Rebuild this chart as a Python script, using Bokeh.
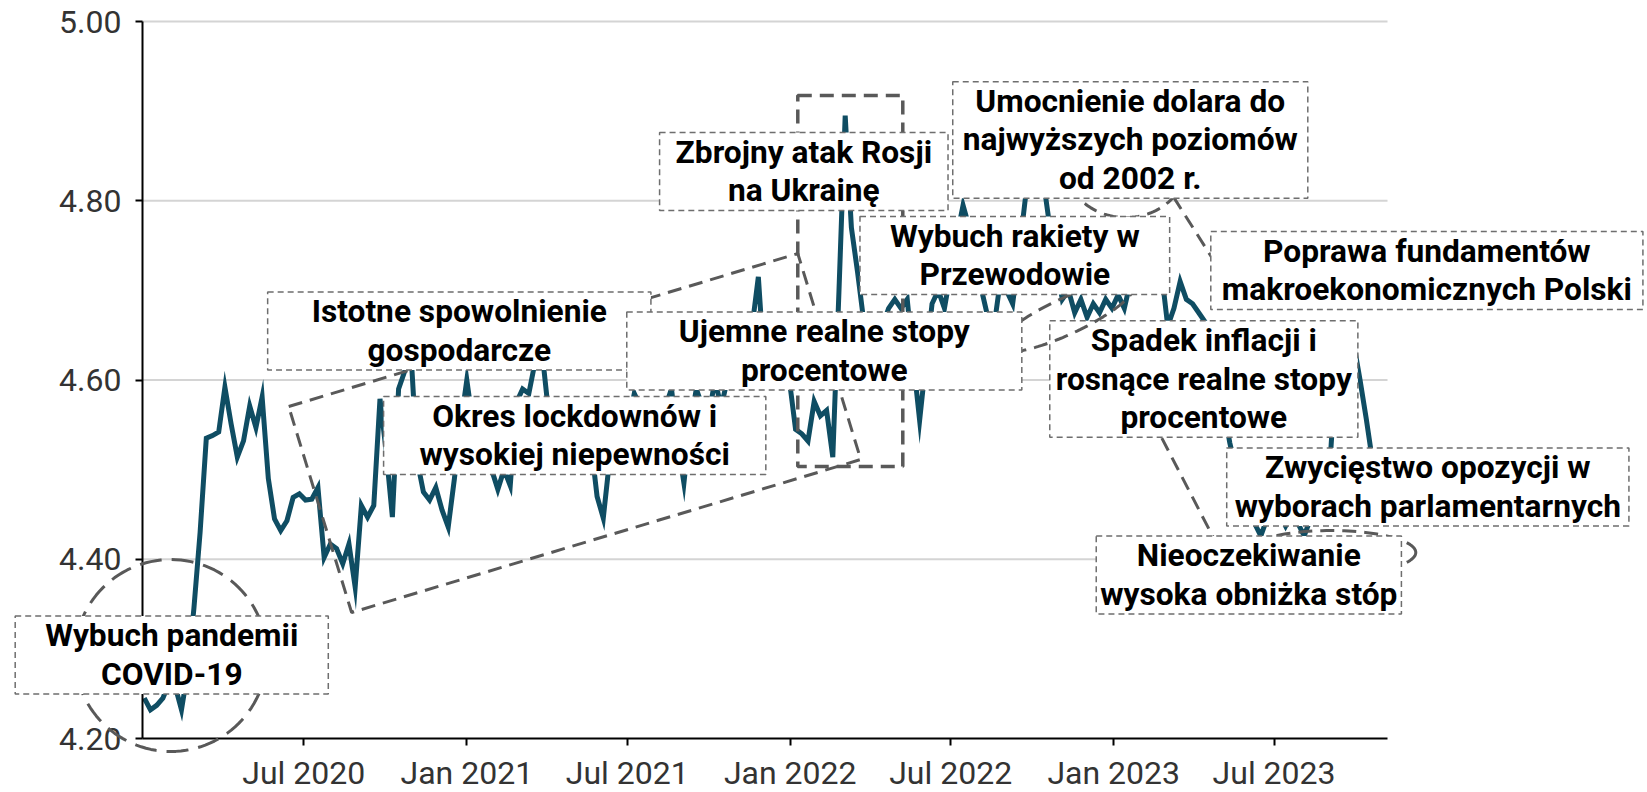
import numpy as np
import pandas as pd
from bokeh.plotting import figure
from bokeh.models import Range1d, FixedTicker, Label, PolyAnnotation, Arrow, ColumnDataSource
from bokeh.embed import file_html
from bokeh.resources import INLINE

# ---------------- data ----------------
first_week = "2020-01-03"
eur_pln = [
    4.245, 4.232, 4.237, 4.245, 4.262, 4.258, 4.232, 4.275, 4.345, 4.430,
    4.535, 4.538, 4.542, 4.592, 4.551, 4.514, 4.532, 4.571, 4.547, 4.581,
    4.490, 4.445, 4.432, 4.443, 4.469, 4.473, 4.466, 4.467, 4.480, 4.402,
    4.417, 4.412, 4.395, 4.417, 4.369, 4.460, 4.447, 4.460, 4.579, 4.520,
    4.447, 4.590, 4.610, 4.630, 4.510, 4.475, 4.466, 4.480, 4.455, 4.436,
    4.490, 4.550, 4.600, 4.550, 4.540, 4.520, 4.500, 4.478, 4.500, 4.482,
    4.575, 4.590, 4.585, 4.620, 4.640, 4.575, 4.550, 4.560, 4.545, 4.530,
    4.520, 4.550, 4.530, 4.470, 4.446, 4.510, 4.540, 4.560, 4.550, 4.585,
    4.570, 4.550, 4.530, 4.550, 4.570, 4.590, 4.530, 4.485, 4.550, 4.590,
    4.570, 4.560, 4.600, 4.570, 4.600, 4.620, 4.630, 4.610, 4.660, 4.715,
    4.610, 4.600, 4.610, 4.620, 4.600, 4.545, 4.540, 4.532, 4.576, 4.560,
    4.566, 4.514, 4.700, 4.895, 4.770, 4.720, 4.665, 4.640, 4.650, 4.660,
    4.680, 4.690, 4.680, 4.690, 4.620, 4.555, 4.620, 4.685, 4.700, 4.680,
    4.720, 4.760, 4.795, 4.770, 4.730, 4.700, 4.670, 4.660, 4.710, 4.700,
    4.685, 4.740, 4.800, 4.850, 4.870, 4.820, 4.770, 4.730, 4.690, 4.700,
    4.675, 4.690, 4.670, 4.685, 4.675, 4.690, 4.680, 4.695, 4.680, 4.710,
    4.740, 4.760, 4.770, 4.775, 4.720, 4.660, 4.680, 4.710, 4.690, 4.685,
    4.675, 4.665, 4.630, 4.600, 4.570, 4.530, 4.500, 4.470, 4.460, 4.440,
    4.426, 4.445, 4.460, 4.450, 4.437, 4.450, 4.440, 4.426, 4.445, 4.470,
    4.480, 4.490, 4.600, 4.630, 4.610, 4.640, 4.600, 4.557, 4.510, 4.460,
]
x_ticks = ["2020-07-01", "2021-01-01", "2021-07-01", "2022-01-01",
           "2022-07-01", "2023-01-01", "2023-07-01"]
x_tick_labels = ["Jul 2020", "Jan 2021", "Jul 2021", "Jan 2022",
                 "Jul 2022", "Jan 2023", "Jul 2023"]
y_ticks = [4.20, 4.40, 4.60, 4.80, 5.00]
y_tick_labels = ["4.20", "4.40", "4.60", "4.80", "5.00"]

# annotation texts and anchor points (date, value)
notes = [
    ("A", "Wybuch pandemii\nCOVID-19", "2020-02-03", 4.2932),
    ("B", "Istotne spowolnienie\ngospodarcze", "2020-12-23 12:00", 4.6547),
    ("C", "Okres lockdownów i\nwysokiej niepewności", "2021-05-02 18:00", 4.5381),
    ("D", "Ujemne realne stopy\nprocentowe", "2022-02-08 10:00", 4.6324),
    ("E", "Zbrojny atak Rosji\nna Ukrainę", "2022-01-16 07:00", 4.8326),
    ("F", "Umocnienie dolara do\nnajwyższych poziomów\nod 2002 r.", "2023-01-19 17:00", 4.8678),
    ("G", "Wybuch rakiety w\nPrzewodowie", "2022-09-11 10:00", 4.7389),
    ("H", "Poprawa fundamentów\nmakroekonomicznych Polski", "2023-12-20 10:00", 4.7222),
    ("I", "Spadek inflacji i\nrosnące realne stopy\nprocentowe", "2023-04-12 17:00", 4.6011),
    ("J", "Zwycięstwo opozycji w\nwyborach parlamentarnych", "2023-12-21 12:00", 4.4806),
    ("K", "Nieoczekiwanie\nwysoka obniżka stóp", "2023-06-02 12:00", 4.3824),
]
# horizontal padding of each text box
pad_h = {"A": 30, "B": 44, "C": 36, "D": 52, "E": 16, "F": 10, "G": 30,
         "H": 11, "I": 6, "J": 8, "K": 4}

# ---------------- layout ----------------
X0, X1 = "2020-01-01", "2023-11-06"      # extent of the drawn axes
Y0, Y1 = 4.2, 5.0
FRAME_W, FRAME_H = 1245, 717
LEFT, TOP = 142, 21
W, H = 1647, 792
RIGHT, BOTTOM = W - LEFT - FRAME_W, H - TOP - FRAME_H


def ms(d):
    return pd.Timestamp(d).value / 1e6


PX_PER_MS = FRAME_W / (ms(X1) - ms(X0))
PX_PER_UNIT = FRAME_H / (Y1 - Y0)

# the plot frame covers the whole canvas, so the text boxes are never clipped;
# the axes are pinned to the corner of the data area
xr = Range1d(ms(X0) - LEFT / PX_PER_MS, ms(X1) + RIGHT / PX_PER_MS)
yr = Range1d(Y0 - BOTTOM / PX_PER_UNIT, Y1 + TOP / PX_PER_UNIT)

dates = pd.date_range(first_week, periods=len(eur_pln), freq="7D")
src = ColumnDataSource(dict(date=dates, value=eur_pln))

p = figure(width=W, height=H, x_axis_type="datetime", x_range=xr, y_range=yr,
           output_backend="svg", toolbar_location=None, min_border=0)
p.outline_line_color = None
p.background_fill_color = "white"
p.border_fill_color = "white"
p.xgrid.visible = False
p.ygrid.visible = False

# horizontal grid lines limited to the data area
grid_y = [v for v in y_ticks if v > Y0]
p.segment(x0=[ms(X0)] * len(grid_y), x1=[ms(X1)] * len(grid_y), y0=grid_y, y1=grid_y,
          line_color="#d4d4d4", line_width=2, level="underlay")

for ax in (p.xaxis[0], p.yaxis[0]):
    ax.axis_line_color = "black"
    ax.axis_line_width = 2
    ax.major_tick_line_color = "black"
    ax.major_tick_line_width = 2
    ax.major_tick_in = 0
    ax.major_tick_out = 7
    ax.minor_tick_line_color = None
    ax.major_label_text_font = "Roboto"
    ax.major_label_text_font_size = "32px"
    ax.major_label_text_color = "#333333"

p.xaxis.fixed_location = Y0
p.xaxis.bounds = (ms(X0), ms(X1))
p.xaxis.ticker = FixedTicker(ticks=[ms(d) for d in x_ticks])
p.xaxis.major_label_overrides = {ms(d): lab for d, lab in zip(x_ticks, x_tick_labels)}
p.xaxis.major_label_standoff = 8
p.yaxis.fixed_location = ms(X0)
p.yaxis.bounds = (Y0, Y1)
p.yaxis.ticker = FixedTicker(ticks=y_ticks)
p.yaxis.major_label_overrides = {v: lab for v, lab in zip(y_ticks, y_tick_labels)}
p.yaxis.major_label_standoff = 14

p.line(x="date", y="value", source=src, line_color="#0f4d63", line_width=5,
       line_join="miter")

SHAPE_COL = "#595959"


def poly_px(center_date, center_val, dx_px, dy_px):
    xs = [ms(center_date) + dx / PX_PER_MS for dx in dx_px]
    ys = [center_val + dy / PX_PER_UNIT for dy in dy_px]
    return xs, ys


def ellipse(center_date, center_val, a, b, tilt=0.0, n=120, dash="14 8", width=3):
    t = np.linspace(0, 2 * np.pi, n, endpoint=False)
    th = np.radians(tilt)
    dx = a * np.cos(t) * np.cos(th) - b * np.sin(t) * np.sin(th)
    dy = a * np.cos(t) * np.sin(th) + b * np.sin(t) * np.cos(th)
    xs, ys = poly_px(center_date, center_val, dx, dy)
    return PolyAnnotation(xs=xs, ys=ys, xs_units="data", ys_units="data",
                          line_color=SHAPE_COL, line_alpha=1.0, line_width=width,
                          line_dash=dash, fill_color=None, fill_alpha=0)


def poly(pts, dash="14 8", width=3):
    return PolyAnnotation(xs=[ms(d) for d, _ in pts], ys=[v for _, v in pts],
                          xs_units="data", ys_units="data",
                          line_color=SHAPE_COL, line_alpha=1.0, line_width=width,
                          line_dash=dash, fill_color=None, fill_alpha=0)


def seg(d0, v0, d1, v1):
    return Arrow(x_start=ms(d0), y_start=v0, x_end=ms(d1), y_end=v1, end=None,
                 line_color=SHAPE_COL, line_width=3, line_dash="14 8")


# highlight shapes (under the text boxes)
p.add_layout(ellipse("2020-02-02", 4.2926, 96, 96, dash="22 10"))
p.add_layout(poly([("2020-06-14", 4.5704), ("2022-01-09 12:00", 4.7411),
                   ("2022-03-21 14:00", 4.5113), ("2020-08-24", 4.3406)]))
p.add_layout(poly([("2022-01-09 12:00", 4.9174), ("2022-05-08", 4.9174),
                   ("2022-05-08", 4.5035), ("2022-01-09 12:00", 4.5035)], width=3.5))
p.add_layout(ellipse("2023-01-14 16:00", 4.8393, 60, 52))
p.add_layout(ellipse("2023-09-03", 4.4075, 85, 22))
p.add_layout(seg("2023-02-24 08:00", 4.8248, "2023-04-29 14:00", 4.7244))
p.add_layout(seg("2023-02-12 22:00", 4.5570, "2023-04-24", 4.4232))


def note_label(key, text, d, v):
    return Label(x=ms(d), y=v, x_units="data", y_units="data", text=text,
                 text_font="Roboto", text_font_size="31.7px", text_font_style="bold",
                 text_color="black", text_align="center", text_baseline="middle",
                 text_line_height=1.05,
                 background_fill_color="white", background_fill_alpha=1.0,
                 border_line_color="#6e6e6e", border_line_width=1.5,
                 border_line_dash="6 4", padding=(pad_h[key], 1))


labels = {k: note_label(k, t, d, v) for k, t, d, v in notes}
for k in ["A", "B", "C", "E", "F", "H", "I", "J", "K"]:
    p.add_layout(labels[k])
# Przewodowie ellipse drawn over box I, under D and G
p.add_layout(ellipse("2022-11-08", 4.6709, 75, 18, tilt=25))
for k in ["D", "G"]:
    p.add_layout(labels[k])

open("out.html", "w").write(file_html(p, INLINE))
